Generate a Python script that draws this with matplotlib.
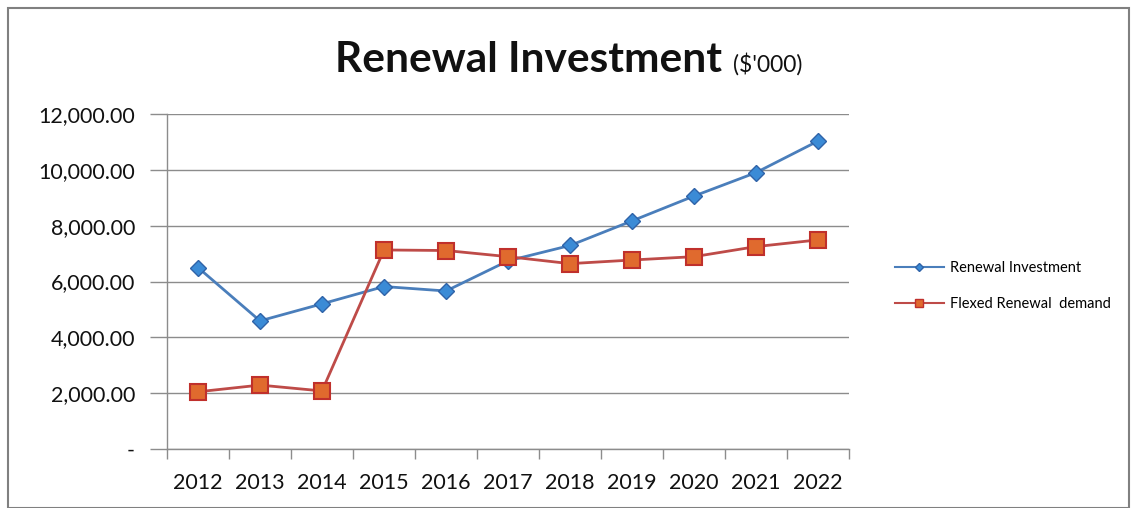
import matplotlib
matplotlib.use('Agg')
import matplotlib.pyplot as plt
import matplotlib.ticker as mticker
from matplotlib.lines import Line2D
from matplotlib.patches import Rectangle

# Series data ($'000)
years = ['2012', '2013', '2014', '2015', '2016', '2017',
         '2018', '2019', '2020', '2021', '2022']
renewal_investment = [6500, 4590, 5200, 5820, 5660, 6740,
                      7290, 8170, 9060, 9900, 11030]
flexed_demand = [2050, 2290, 2080, 7130, 7110, 6890,
                 6640, 6770, 6890, 7250, 7490]

BLUE_LINE = '#4a7ebb'
BLUE_FILL = '#3b8bd6'
BLUE_EDGE = '#2f63a8'
RED_LINE = '#be4b48'
RED_FILL = '#e06a2e'
RED_EDGE = '#c0302c'
GRID = '#8c8c8c'

plt.rcParams['font.family'] = ['Lato', 'DejaVu Sans']

fig = plt.figure(figsize=(11.33, 5.08), dpi=100)
ax = fig.add_axes([0.1474, 0.1161, 0.6019, 0.6595])

x = list(range(len(years)))
ax.plot(x, renewal_investment, color=BLUE_LINE, linewidth=2,
        marker='D', markersize=8, markerfacecolor=BLUE_FILL,
        markeredgecolor=BLUE_EDGE, markeredgewidth=1, zorder=3)
ax.plot(x, flexed_demand, color=RED_LINE, linewidth=2,
        marker='s', markersize=11, markerfacecolor=RED_FILL,
        markeredgecolor=RED_EDGE, markeredgewidth=1.5, zorder=3)

ax.set_xlim(-0.5, len(years) - 0.5)
ax.set_ylim(0, 12000)
ax.set_yticks(range(0, 12001, 2000))
ax.yaxis.set_major_formatter(
    mticker.FuncFormatter(lambda v, p: '-' if v == 0 else f'{v:,.2f}'))
ax.grid(axis='y', color=GRID, linewidth=1)
ax.set_axisbelow(True)

# category labels centred, tick marks between categories
ax.set_xticks(x)
ax.set_xticklabels(years)
ax.set_xticks([i - 0.5 for i in range(len(years) + 1)], minor=True)
ax.tick_params(axis='x', which='major', length=0, pad=17, labelsize=15.5,
               labelcolor='#111111')
ax.tick_params(axis='x', which='minor', length=7, color=GRID, width=1)
ax.tick_params(axis='y', length=12, color=GRID, width=1, pad=11,
               labelsize=15.5, labelcolor='#111111')

for side in ['top', 'right']:
    ax.spines[side].set_visible(False)
for side in ['left', 'bottom']:
    ax.spines[side].set_color(GRID)
    ax.spines[side].set_linewidth(1)

# title with smaller units suffix
fig.text(722 / 1133, 1 - 72 / 508, 'Renewal Investment', ha='right',
         va='baseline', fontsize=30.5, fontweight='bold', color='#111111')
fig.text(733 / 1133, 1 - 72 / 508, "($'000)", ha='left',
         va='baseline', fontsize=16.5, color='#111111')

handles = [
    Line2D([], [], color=BLUE_LINE, linewidth=1.5, marker='D', markersize=4,
           markerfacecolor=BLUE_FILL, markeredgecolor=BLUE_EDGE),
    Line2D([], [], color=RED_LINE, linewidth=1.5, marker='s', markersize=6,
           markerfacecolor=RED_FILL, markeredgecolor=RED_EDGE),
]
fig.legend(handles, ['Renewal Investment', 'Flexed Renewal  demand'],
           loc='center left', bbox_to_anchor=(0.778, 1 - 286 / 508),
           frameon=False, fontsize=10.5, handlelength=3.4,
           labelspacing=1.5, handletextpad=0.4)

# outer chart border
fig.patches.append(Rectangle((8 / 1133, 0), 1 - 12 / 1133, 1 - 8 / 508,
                             transform=fig.transFigure, fill=False,
                             edgecolor='#808080', linewidth=1.5))

plt.savefig('out.png', dpi=100)
plt.close()
